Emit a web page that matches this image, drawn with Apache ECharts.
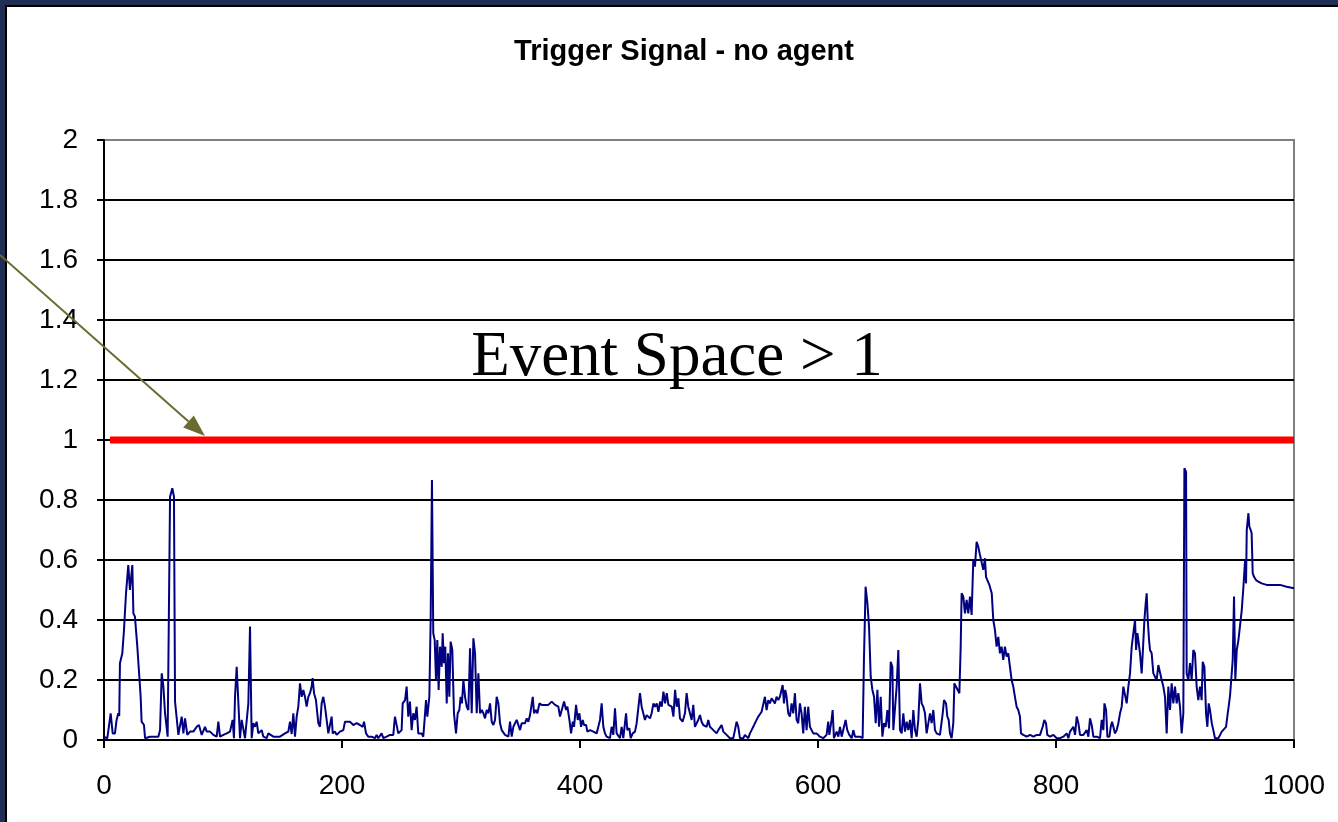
<!DOCTYPE html>
<html>
<head>
<meta charset="utf-8">
<title>Trigger Signal - no agent</title>
<script src="https://cdn.jsdelivr.net/npm/echarts@6/dist/echarts.min.js"></script>
<style>
  html, body { margin: 0; padding: 0; width: 1338px; height: 822px; overflow: hidden; background: #212e54; }
  #panel { position: absolute; left: 5px; top: 5px; width: 1333px; height: 817px; background: #fff;
           border-left: 2px solid #000; border-top: 2px solid #000; box-sizing: border-box; }
  #chart { position: absolute; left: 0; top: 0; width: 1338px; height: 822px; }
</style>
</head>
<body>
<div id="panel"></div>
<div id="chart"></div>
<script>
/* ----------------------------  Data  ---------------------------- */
const chartTitle = 'Trigger Signal - no agent';
const eventLabel = 'Event Space > 1';

// trigger signal, [sample, value]
const triggerSignal = [
  [0,0.01],[2.8,0.006],[5.6,0.089],[7.3,0.022],[9.2,0.022],[10.6,0.067],[12,0.089],[12.8,0.08],
  [13.4,0.256],[15.4,0.289],[16.8,0.367],[18.5,0.489],[20.4,0.583],[21.8,0.5],[23.8,0.583],[24.7,0.422],
  [26,0.411],[28,0.311],[29.7,0.211],[30.8,0.144],[31.6,0.061],[33.6,0.05],[34.5,0.006],[38.7,0.011],
  [45.7,0.011],[47.1,0.033],[48.5,0.222],[49.9,0.178],[51.3,0.089],[53.5,0.011],[55.5,0.811],[57.4,0.839],
  [58.8,0.811],[59.7,0.128],[61.1,0.122],[62.5,0.017],[65.3,0.078],[66.7,0.022],[68.1,0.072],[70,0.017],
  [72.3,0.028],[75.1,0.028],[77.9,0.044],[79.8,0.05],[82.1,0.017],[84.9,0.044],[86.3,0.028],[89.1,0.028],
  [91.9,0.017],[94.7,0.011],[96.1,0.061],[97.5,0.011],[100.3,0.017],[103.1,0.022],[105.9,0.028],[108.1,0.067],
  [109.2,0.006],[110.1,0.144],[111.5,0.244],[112.9,0.244],[114.3,0.006],[115.7,0.067],[117.1,0.067],[118.5,0.006],
  [119.9,0.011],[121.3,0.122],[122.7,0.378],[124.1,0.006],[125.5,0.056],[126.9,0.044],[128.3,0.061],[129.7,0.022],
  [131.1,0.017],[132.5,0.033],[133.9,0.011],[136.7,0.006],[138.1,0.022],[142.3,0.011],[147.9,0.011],[152.1,0.022],
  [154.9,0.028],[156.3,0.061],[157.7,0.02],[159.1,0.089],[160.5,0.011],[161.9,0.078],[163.3,0.111],[164.7,0.189],
  [166.1,0.144],[167.5,0.167],[168.9,0.144],[170.3,0.111],[171.7,0.144],[173.1,0.156],[174.5,0.178],[175.3,0.206],
  [176.5,0.156],[178.1,0.133],[180.1,0.056],[181.5,0.044],[182.9,0.122],[184.3,0.144],[185.7,0.111],[187.1,0.067],
  [188.5,0.022],[189.9,0.017],[191.3,0.078],[192.2,0.022],[194.1,0.028],[195.5,0.017],[198.3,0.028],[199.7,0.022],
  [201.1,0.033],[202.5,0.061],[203.9,0.056],[206.7,0.061],[209.5,0.05],[212.3,0.056],[215.1,0.05],[217.4,0.044],
  [218.5,0.061],[220.2,0.022],[222.1,0.011],[224.9,0.011],[227.7,0.006],[229.1,0.017],[230.5,0.006],[233.3,0.022],
  [234.7,0.006],[237.5,0.011],[240.3,0.017],[241.7,0.022],[243.1,0.017],[244.5,0.078],[245.9,0.083],[247.3,0.022],
  [250.1,0.033],[251,0.122],[253,0.133],[254.3,0.178],[255.7,0.078],[257.1,0.128],[258.5,0.033],[259.9,0.089],
  [261.3,0.067],[262.7,0.111],[264.1,0.022],[265.5,0.028],[266.9,0.022],[268.3,0.011],[269.2,0.056],[270.6,0.133],
  [271.7,0.078],[273.4,0.144],[274.5,0.4],[275.6,0.867],[276.7,0.356],[277.9,0.333],[279,0.2],[280.1,0.333],
  [281.2,0.167],[282.4,0.311],[283.8,0.244],[284.6,0.356],[285.7,0.256],[286.8,0.311],[288,0.122],[289.1,0.289],
  [290.2,0.144],[291.3,0.328],[292.7,0.3],[294.1,0.089],[295.8,0.022],[297.2,0.089],[298.6,0.1],[299.7,0.144],
  [300.8,0.122],[302,0.2],[303.4,0.144],[304.8,0.111],[306.2,0.1],[307.6,0.306],[309,0.089],[310.4,0.339],
  [311.8,0.289],[313.2,0.089],[314.6,0.222],[316,0.089],[317.4,0.1],[318.8,0.089],[320.2,0.072],[321.6,0.1],
  [323,0.089],[324.4,0.122],[325.8,0.061],[327.2,0.05],[328.6,0.067],[330,0.144],[331.4,0.122],[332.8,0.056],
  [334.2,0.033],[335.6,0.033],[337,0.017],[338.4,0.022],[339.8,0.011],[341.2,0.061],[342.6,0.011],[344,0.044],
  [345.4,0.044],[346.8,0.067],[348.2,0.072],[349.6,0.033],[351,0.056],[352.4,0.061],[353.8,0.056],[355.2,0.072],
  [356.6,0.061],[358,0.083],[359.4,0.083],[360.3,0.144],[361.4,0.089],[363,0.1],[364.2,0.089],[365.9,0.122],
  [367.8,0.117],[369.2,0.111],[370.6,0.117],[372,0.122],[373.4,0.117],[374.8,0.122],[376.2,0.128],[377.6,0.122],
  [379,0.117],[380.4,0.111],[381.8,0.111],[383.2,0.078],[384.6,0.078],[386.6,0.128],[388.3,0.1],[389.4,0.111],
  [391.1,0.067],[392.5,0.022],[393.9,0.061],[395,0.044],[396.7,0.117],[398.1,0.067],[399.5,0.089],[400.9,0.044],
  [402.3,0.067],[403.4,0.05],[405.1,0.05],[406.2,0.028],[408.4,0.033],[411.2,0.028],[412.6,0.022],[414,0.022],
  [415.4,0.017],[416.8,0.067],[418.2,0.122],[419.6,0.044],[421,0.022],[422.4,0.011],[423.8,0.011],[425.2,0.006],
  [426.6,0.044],[428,0.017],[429.4,0.106],[430.8,0.022],[432.2,0.028],[433.6,0.006],[435,0.044],[436.4,0.006],
  [438.7,0.089],[439.8,0.033],[441.5,0.039],[442.6,0.006],[444.3,0.022],[446.2,0.028],[447.6,0.056],[449,0.05],
  [450.4,0.156],[451.8,0.111],[453.2,0.111],[454.6,0.067],[456,0.083],[457.4,0.089],[458.8,0.072],[460.2,0.089],
  [461.7,0.122],[463.1,0.111],[464.5,0.122],[465.9,0.094],[467.3,0.128],[468.7,0.111],[470.1,0.161],[471.5,0.122],
  [472.9,0.156],[474.3,0.117],[475.7,0.122],[477.1,0.111],[478.5,0.078],[479.9,0.167],[481.3,0.111],[482.7,0.139],
  [484,0.072],[486.2,0.061],[488.2,0.089],[489.6,0.156],[491,0.111],[492.4,0.089],[493.8,0.067],[495.2,0.117],
  [496.6,0.044],[498,0.044],[499.4,0.067],[500.8,0.083],[502.2,0.061],[503.6,0.05],[505,0.056],[506.4,0.044],
  [507.8,0.067],[509.2,0.044],[510.6,0.044],[512,0.033],[513.4,0.028],[514.8,0.022],[516.2,0.033],[517.6,0.033],
  [519,0.05],[520.4,0.028],[521.8,0.028],[523.2,0.017],[524.6,0.011],[526,0.006],[528.8,0.006],[530.2,0.033],
  [531.6,0.061],[533,0.044],[534.4,0.006],[537.2,0.006],[538.6,0.017],[540,0.022],[541.4,0.006],[542.8,0.022],
  [544.2,0.033],[545.6,0.044],[547,0.056],[548.4,0.067],[549.8,0.078],[551.2,0.083],[552.6,0.094],[554,0.1],
  [555.4,0.144],[556.8,0.1],[558.2,0.133],[559.6,0.122],[561,0.139],[562.4,0.133],[563.8,0.122],[565.2,0.144],
  [566.6,0.133],[568,0.144],[569.4,0.144],[570.3,0.183],[571.4,0.122],[572.5,0.167],[573.6,0.144],[575,0.089],
  [576.4,0.078],[577.8,0.122],[579.2,0.089],[580.6,0.156],[582,0.067],[583.4,0.056],[584.8,0.122],[586.2,0.089],
  [587.6,0.022],[589,0.111],[590.4,0.033],[591.8,0.111],[593.2,0.044],[594.6,0.033],[596,0.022],[597.4,0.017],
  [598.8,0.022],[601.6,0.011],[604.4,0.006],[607.2,0.017],[608.6,0.061],[609.5,0.017],[611.4,0.067],[612.3,0.1],
  [613.4,0.006],[615.7,0.028],[617.1,0.011],[618.5,0.044],[619.9,0.011],[621.3,0.006],[623.2,0.067],[624.6,0.033],
  [626.3,0.017],[628.3,0.006],[629.7,0.033],[631.1,0.011],[632.5,0.006],[635.3,0.011],[637.5,0.006],[638.6,0.267],
  [640,0.511],[641.5,0.456],[642.9,0.378],[644.3,0.211],[645.7,0.167],[647.1,0.144],[648.5,0.056],[649.9,0.167],
  [651.3,0.044],[652.7,0.144],[654.1,0.011],[655.5,0.056],[656.9,0.044],[658.3,0.1],[659.7,0.039],[661.1,0.261],
  [662.5,0.244],[663.3,0.033],[664.7,0.033],[666.1,0.178],[667.5,0.3],[668.9,0.033],[670.3,0.022],[671.7,0.089],
  [673.1,0.028],[674.5,0.061],[675.9,0.033],[677.3,0.067],[678.7,0.006],[680.1,0.1],[681.5,0.033],[682.9,0.011],
  [684.3,0.067],[685.7,0.189],[687.1,0.122],[688.5,0.111],[689.9,0.089],[691.3,0.022],[692.7,0.022],[694.1,0.089],
  [695.5,0.056],[696.9,0.1],[698.3,0.033],[699.7,0.022],[702.5,0.017],[704.8,0.089],[705.9,0.133],[707.6,0.122],
  [708.7,0.078],[709.8,0.067],[710.9,0.022],[712.3,0.006],[713.7,0.056],[714.6,0.189],[715.9,0.178],[717.4,0.167],
  [718.8,0.156],[719.9,0.311],[720.7,0.489],[722.1,0.478],[723.5,0.422],[724.9,0.467],[726.3,0.422],[727.7,0.478],
  [729.1,0.417],[730.5,0.6],[731.9,0.578],[733.3,0.661],[734.7,0.644],[736.1,0.617],[737.5,0.611],[738.9,0.567],
  [740.3,0.606],[741.2,0.544],[742.3,0.533],[744,0.517],[746,0.489],[747.3,0.4],[748.7,0.367],[750.1,0.311],
  [751.5,0.344],[752.9,0.289],[754.3,0.311],[755.7,0.267],[757.1,0.311],[758.5,0.278],[759.9,0.289],[761.3,0.244],
  [762.7,0.2],[764.1,0.178],[765.5,0.144],[766.9,0.111],[768.3,0.1],[769.7,0.078],[770.6,0.022],[772.5,0.017],
  [775.4,0.011],[778.2,0.017],[781,0.011],[783.8,0.017],[786.6,0.017],[788.8,0.044],[790.2,0.067],[791.6,0.056],
  [792.7,0.017],[795,0.011],[797.8,0.017],[800.6,0.006],[803.4,0.006],[806.2,0.011],[807.6,0.017],[809,0.022],
  [810.4,0.006],[811.8,0.028],[813.2,0.022],[814.6,0.044],[816,0.017],[817.4,0.078],[818.8,0.056],[820.2,0.017],
  [821.6,0.011],[823,0.017],[824.4,0.022],[825.8,0.033],[827.2,0.011],[828.6,0.072],[830,0.05],[831.4,0.011],
  [834.2,0.011],[837,0.006],[838.4,0.067],[839.8,0.033],[840.7,0.122],[842.1,0.1],[843.2,0.011],[844.9,0.011],
  [846,0.044],[847.1,0.061],[848.2,0.044],[849.6,0.022],[851,0.033],[852.4,0.056],[853.8,0.089],[855.2,0.111],
  [856.6,0.178],[858,0.183],[859.4,0.122],[860.8,0.178],[862.2,0.222],[863.6,0.311],[865,0.356],[866.4,0.4],
  [867.3,0.3],[868.4,0.356],[869.2,0.333],[870.6,0.289],[872,0.222],[872.9,0.289],[874.3,0.4],[875.4,0.456],
  [876.2,0.489],[877.1,0.4],[878.2,0.333],[879,0.3],[880.4,0.289],[881.8,0.222],[883.2,0.211],[884.6,0.2],
  [886,0.25],[887.4,0.244],[888.8,0.2],[890.2,0.178],[891.6,0.144],[893,0.022],[894.4,0.178],[895.8,0.1],
  [897.2,0.189],[898.6,0.122],[900,0.178],[901.4,0.122],[902.8,0.156],[904.2,0.111],[905.6,0.022],[907,0.089],
  [907.9,0.906],[909.3,0.894],[909.8,0.222],[911.2,0.2],[912.6,0.256],[914,0.2],[915.4,0.3],[916.8,0.289],
  [918.2,0.178],[919.6,0.133],[921,0.178],[922.4,0.133],[923.3,0.261],[924.7,0.244],[926.1,0.089],[927.2,0.044],
  [928.3,0.122],[929.4,0.1],[930.9,0.056],[932.2,0.033],[933.6,0.006],[936.4,0.006],[937.9,0.017],[939.3,0.028],
  [940.7,0.033],[942.9,0.044],[944.3,0.089],[945.1,0.111],[946.3,0.15],[947.7,0.144],[948.5,0.267],[949.6,0.478],
  [950.7,0.2],[951.9,0.3],[953.3,0.333],[954.7,0.333],[956.1,0.433],[957.5,0.511],[958.9,0.6],[959.7,0.522],
  [960.3,0.7],[961.7,0.756],[962.5,0.711],[963.6,0.7],[964.4,0.689],[965.3,0.556],[966.4,0.544],[968.1,0.533],
  [970,0.528],[972.8,0.522],[977,0.517],[982.6,0.517],[988.2,0.517],[989.6,0.511],[993.8,0.511],[1000,0.506]
];

// threshold, the red line at 1
const thresholdLine = [[5, 1], [1000, 1]];

const xRange = [0, 1000, 200];   // min, max, step
const yRange = [0, 2, 0.2];

/* ----------------------------  Arrow (annotation)  ---------------------------- */
function arrowShapes(tail, tip, headLen, headHalf, color) {
  const dx = tip[0] - tail[0], dy = tip[1] - tail[1];
  const len = Math.sqrt(dx * dx + dy * dy);
  const ux = dx / len, uy = dy / len;
  const bx = tip[0] - ux * headLen, by = tip[1] - uy * headLen;
  return [
    { type: 'line', shape: { x1: tail[0], y1: tail[1], x2: bx, y2: by },
      style: { stroke: color, lineWidth: 2 }, z: 100 },
    { type: 'polygon',
      shape: { points: [tip, [bx - uy * headHalf, by + ux * headHalf], [bx + uy * headHalf, by - ux * headHalf]] },
      style: { fill: color }, z: 100 }
  ];
}

/* ----------------------------  Chart  ---------------------------- */
const chart = echarts.init(document.getElementById('chart'), null, { renderer: 'canvas' });

const labelFont = { fontFamily: 'Liberation Sans, Arial, sans-serif', fontSize: 28, color: '#000' };
const splitColors = new Array(10).fill('#000').concat(['#808080']);

chart.setOption({
  animation: false,
  backgroundColor: 'transparent',
  grid: { left: 104, top: 140, right: 44, bottom: 82, show: true, borderColor: '#808080', borderWidth: 2 },
  xAxis: {
    type: 'value',
    min: xRange[0], max: xRange[1], interval: xRange[2],
    axisLine: { lineStyle: { color: '#000', width: 2 } },
    axisTick: { show: true, inside: false, length: 8, lineStyle: { color: '#000', width: 2 } },
    axisLabel: { ...labelFont, margin: 32, formatter: (v) => String(v) },
    splitLine: { show: false }
  },
  yAxis: {
    type: 'value',
    min: yRange[0], max: yRange[1], interval: yRange[2],
    axisLine: { show: true, lineStyle: { color: '#000', width: 2 } },
    axisTick: { show: true, inside: false, length: 7, lineStyle: { color: '#000', width: 2 } },
    axisLabel: { ...labelFont, margin: 26 },
    splitLine: { show: true, lineStyle: { color: splitColors, width: 2 } }
  },
  series: [
    {
      name: 'Trigger',
      type: 'line',
      data: triggerSignal,
      showSymbol: false,
      lineStyle: { color: '#000080', width: 2 },
      z: 3
    },
    {
      name: 'Threshold',
      type: 'line',
      data: thresholdLine,
      showSymbol: false,
      lineStyle: { color: '#ff0000', width: 7 },
      z: 4
    }
  ],
  graphic: [
    { type: 'text', x: 684, y: 52,
      style: { text: chartTitle, fill: '#000', font: 'bold 29px "Liberation Sans", Arial, sans-serif',
               textAlign: 'center', textVerticalAlign: 'middle' } },
    { type: 'text', x: 677, y: 358, z: 100,
      style: { text: eventLabel, fill: '#000', font: '63px "Liberation Serif", "Times New Roman", serif',
               textAlign: 'center', textVerticalAlign: 'middle' } },
    ...arrowShapes([0, 255], [205, 436], 22, 8, '#6b6b30')
  ]
});
</script>
</body>
</html>
